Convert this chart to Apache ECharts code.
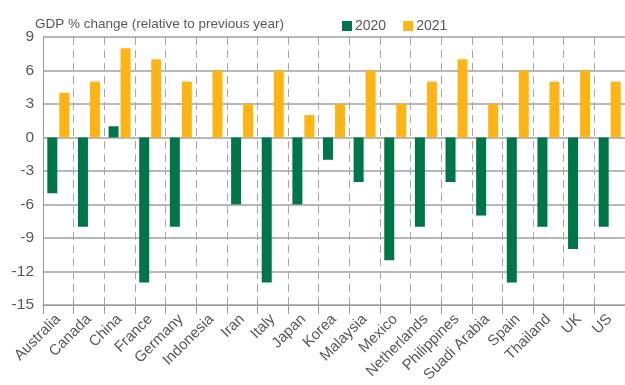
<!DOCTYPE html>
<html>
<head>
<meta charset="utf-8">
<script src="https://cdn.jsdelivr.net/npm/echarts@6/dist/echarts.min.js"></script>
<style>
html,body{margin:0;padding:0;background:#fff;}
#chart{width:625px;height:385px;}
</style>
</head>
<body>
<div id="chart"></div>
<script>
const categories = ["Australia","Canada","China","France","Germany","Indonesia","Iran","Italy","Japan","Korea","Malaysia","Mexico","Netherlands","Philippines","Suadi Arabia","Spain","Thailand","UK","US"];
const values2020 = [-5,-8,1,-13,-8,0,-6,-13,-6,-2,-4,-11,-8,-4,-7,-13,-8,-10,-8];
const values2021 = [4,5,8,7,5,6,3,6,2,3,6,3,5,7,3,6,5,6,5];
const yTicks = [-15,-12,-9,-6,-3,0,3,6,9];
const seriesNames = ["2020","2021"];
const subtitle = "GDP % change (relative to previous year)";

const chart = echarts.init(document.getElementById('chart'), null, {renderer:'canvas'});
const txt = '#595959';
const font = 'Liberation Sans, Arial, Helvetica, sans-serif';
chart.setOption({
  animation:false,
  textStyle:{fontFamily:font},
  title:{text:subtitle, left:35, top:17, padding:0, textStyle:{fontSize:13.5, fontWeight:'normal', color:txt, fontFamily:font}},
  legend:{
    data:seriesNames, left:342, top:19, padding:0, itemWidth:10, itemHeight:10, itemGap:17,
    icon:'rect', textStyle:{fontSize:14, color:txt, fontFamily:font, padding:[0,0,0,-2]}
  },
  grid:{left:43, top:37, width:590, height:271, containLabel:false},
  xAxis:{
    type:'category', data:categories, position:'bottom',
    axisLine:{onZero:false, lineStyle:{color:'#999', width:1}},
    axisTick:{show:true, length:9, lineStyle:{color:'#999'}},
    splitLine:{show:true, lineStyle:{color:'#a8a8a8', type:[8,5], width:1}},
    axisLabel:{rotate:45, fontSize:15, color:txt, margin:12, interval:0, fontFamily:font}
  },
  yAxis:{
    type:'value', min:yTicks[0], max:yTicks[yTicks.length-1], interval:3,
    axisLine:{show:true, lineStyle:{color:'#999'}},
    axisTick:{show:false},
    splitLine:{show:true, lineStyle:{color:'#a0a0a0', width:1.5}},
    axisLabel:{fontSize:15.5, color:txt, margin:9, fontFamily:font}
  },
  series:[
    {name:seriesNames[0], type:'bar', data:values2020, barWidth:10, barGap:'20%', itemStyle:{color:'#00754A'}},
    {name:seriesNames[1], type:'bar', data:values2021, barWidth:10, barGap:'20%', itemStyle:{color:'#FDB515'}}
  ]
});
</script>
</body>
</html>
